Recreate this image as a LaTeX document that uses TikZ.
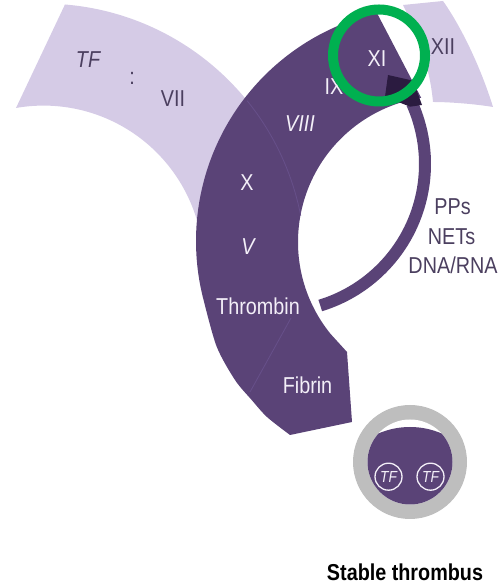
\documentclass[tikz,border=0pt]{standalone}
\usepackage{fontspec}
\setmainfont[FakeStretch=0.86]{Liberation Sans}
\definecolor{bandc}{HTML}{5A4377}
\definecolor{lightc}{HTML}{D5CBE6}
\definecolor{darkc}{HTML}{2B1B40}
\definecolor{txtd}{HTML}{4B3F5F}
\definecolor{txtw}{HTML}{F3EFF8}
\definecolor{ringg}{HTML}{00B050}
\definecolor{grayc}{HTML}{BEBEBE}
\definecolor{seamc}{HTML}{67508A}
\begin{document}
\begin{tikzpicture}[x=1pt,y=1pt,
  lbl/.style={anchor=base, inner sep=0pt, font=\fontsize{23}{26}\selectfont},
  wlbl/.style={lbl, text=txtw},
  dlbl/.style={lbl, text=txtd},
  seam/.style={seamc, line width=0.8pt},
  tfc/.style={circle, draw=txtw, line width=1.3pt, minimum size=27pt, inner sep=0pt, text=txtw, font=\fontsize{16}{18}\selectfont\itshape}
]
\useasboundingbox (0,0) rectangle (499,585);
\coordinate (Co) at (430,344);
\coordinate (Ci) at (444,343);
\coordinate (Cl) at (43.5,319.4);
\coordinate (Ct) at (277,421);

% left light band
\fill[lightc] (16,477) -- ([shift={(85.3:262pt)}]Cl) arc[start angle=85.3, end angle=15, radius=262pt]
  -- ([shift={(0:160pt)}]Cl) arc[start angle=0, end angle=99.9, radius=160pt] -- cycle;
% right light band (XII)
\fill[lightc] (403,580) -- (443,584) .. controls (460,560) and (480,520) .. (493,478)
  .. controls (475,481) and (450,483) .. (433,483)
  .. controls (431,505) and (425,535) .. (403,580) -- cycle;

% main purple band
\fill[bandc] ([shift={(103.1:234pt)}]Co) arc[start angle=103.1, end angle=195, radius=234pt]
  -- plot[smooth] coordinates {(204,283.4) (216.7,238.3) (235,205) (251.7,185) (267,168) (290,150)}
  -- (352,163) -- (347,233) -- ([shift={(219:146pt)}]Ci) arc[start angle=219, end angle=99, radius=146pt] -- cycle;

% faint seams
\draw[seam] ([shift={(39:262pt)}]Cl) arc[start angle=39, end angle=11, radius=262pt];
\draw[seam] (291,267) -- (250,193);

% thin feedback arc
\draw[bandc, line width=12pt] ([shift={(-73:148pt)}]Ct) arc[start angle=-73, end angle=24, radius=148pt];
\fill[darkc] (388,510) -- (413,504.3) -- (422,480) -- (410,478.3) -- (385,488.3) -- cycle;

% labels
\node[dlbl] (tf) at (88,517) {\itshape TF};
\node[dlbl] (colon) at (132,500) {:};
\node[dlbl] (vii) at (173,478.3) {VII};
\node[dlbl] (xii) at (443,530) {XII};
\node[wlbl] (xi) at (377,518.3) {XI};
\node[wlbl] (ix) at (334,490) {IX};
\node[wlbl] (viii) at (300,453.3) {\itshape VIII};
\node[wlbl] (x) at (247,394.3) {X};
\node[wlbl] (v) at (248,330) {\itshape V};
\node[wlbl] (thr) at (258,270) {Thrombin};
\node[wlbl] (fib) at (307.5,191.7) {Fibrin};
\node[dlbl] (pps) at (452.5,370) {PPs};
\node[dlbl] (nets) at (451.5,340) {NETs};
\node[dlbl] (dna) at (453,311) {DNA/RNA};
\node[lbl, text=black, font=\fontsize{23}{26}\selectfont\bfseries] (st) at (405,5) {Stable thrombus};

% green highlight ring
\draw[ringg, line width=10pt] (379,529.5) circle[radius=46pt];

% stable thrombus symbol
\fill[grayc] (410,123) circle[radius=57pt];
\fill[white] (410,123) circle[radius=42.5pt];
\begin{scope}
  \clip (410,123) circle[radius=42.5pt];
  \fill[bandc] (410,78) circle[radius=80pt];
\end{scope}
\node[tfc] (tf1) at (388.5,108.3) {TF};
\node[tfc] (tf2) at (430.5,108.3) {TF};
\end{tikzpicture}
\end{document}
